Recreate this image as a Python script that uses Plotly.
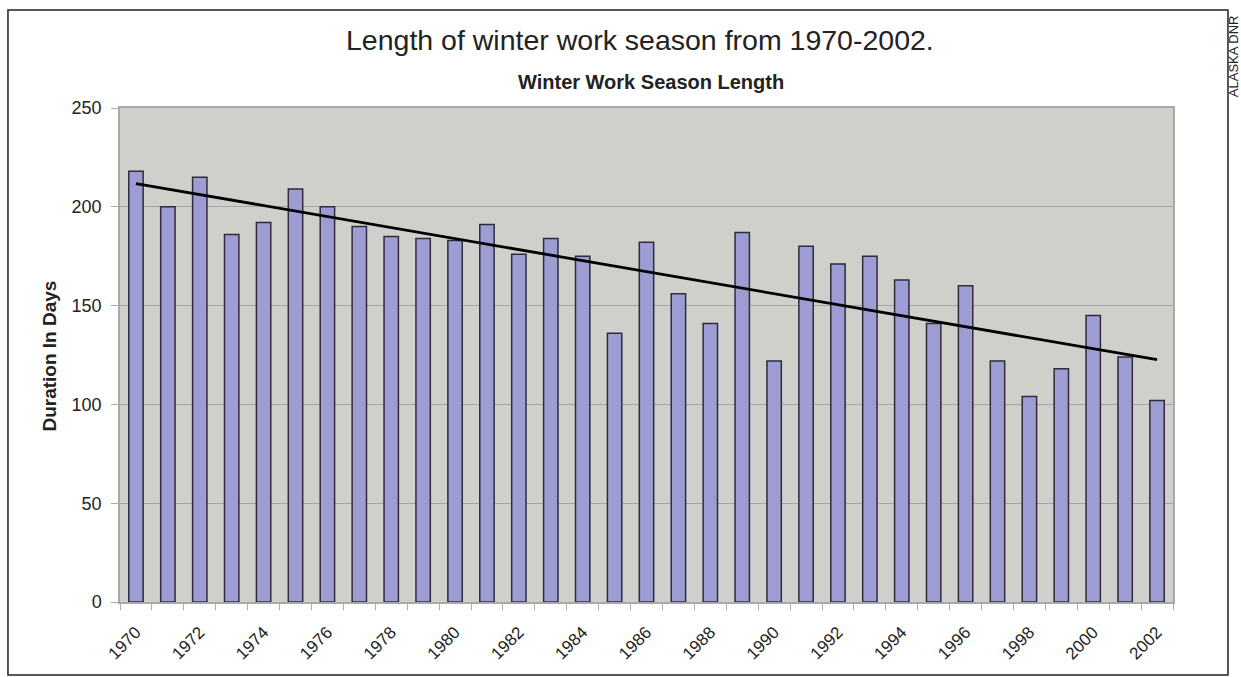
import numpy as np
import plotly.graph_objects as go

years = list(range(1970, 2003))
days = [218, 200, 215, 186, 192, 209, 200, 190, 185, 184, 183, 191, 176, 184, 175,
        136, 182, 156, 141, 187, 122, 180, 171, 175, 163, 141, 160, 122, 104, 118,
        145, 124, 102]
tick_years = list(range(1970, 2003, 2))
y_ticks = [0, 50, 100, 150, 200, 250]

title_text = "Length of winter work season from 1970-2002."
subtitle_text = "Winter Work Season Length"
y_label = "Duration In Days"
credit = "ALASKA DNR"

slope, intercept = np.polyfit(years, days, 1)
trend_x = [years[0], years[-1]]
trend_y = [slope * x + intercept for x in trend_x]

FONT = "Liberation Sans, Arial, sans-serif"
TXT = "#222222"

fig = go.Figure()
fig.add_trace(go.Bar(
    x=years, y=days, width=0.45,
    marker=dict(color="#9d9dd4", line=dict(color="#2c2c3c", width=1.5)),
    showlegend=False,
))
fig.add_trace(go.Scatter(
    x=trend_x, y=trend_y, mode="lines",
    line=dict(color="#000000", width=2.8), showlegend=False,
))

fig.update_layout(
    width=1241, height=677,
    margin=dict(l=120, r=68, t=108, b=75),
    paper_bgcolor="white",
    plot_bgcolor="#cfcfcb",
    font=dict(family=FONT, color=TXT),
    xaxis=dict(
        range=[1969.5, 2002.5],
        tickmode="array", tickvals=tick_years, ticktext=[str(y) for y in tick_years],
        tickangle=-45, tickfont=dict(size=17, family=FONT, color=TXT),
        ticks="", showgrid=False, zeroline=False, ticklabelstandoff=12,
        showline=True, linecolor="#a8a8a8", linewidth=1.5, mirror=True,
        minor=dict(tickmode="linear", tick0=1969.5, dtick=1, ticks="outside",
                   ticklen=6, tickcolor="#a8a8a8", showgrid=False),
    ),
    yaxis=dict(
        range=[0, 250], tickvals=y_ticks,
        tickfont=dict(size=18, family=FONT, color=TXT),
        ticks="outside", ticklen=7, tickcolor="#a8a8a8",
        showgrid=True, gridcolor="#a5a5a5", gridwidth=1.2,
        zeroline=False,
        showline=True, linecolor="#a8a8a8", linewidth=1.5, mirror=True,
        ticklabelstandoff=6,
    ),
    annotations=[
        dict(text=title_text, x=0.494, y=1.1377, xref="paper", yref="paper",
             showarrow=False, font=dict(size=28.5, family=FONT, color=TXT),
             xanchor="center", yanchor="middle"),
        dict(text="<b>" + subtitle_text + "</b>", x=0.504, y=1.0526, xref="paper", yref="paper",
             showarrow=False, font=dict(size=20, family=FONT, color=TXT),
             xanchor="center", yanchor="middle"),
        dict(text="<b>" + y_label + "</b>", x=-0.0669, y=0.498, xref="paper", yref="paper",
             showarrow=False, textangle=-90, font=dict(size=19, family=FONT, color=TXT),
             xanchor="center", yanchor="middle"),
        dict(text=credit, x=1.0570, y=1.105, xref="paper", yref="paper",
             showarrow=False, textangle=-90, font=dict(size=13, family=FONT, color=TXT),
             xanchor="center", yanchor="middle"),
    ],
    shapes=[
        dict(type="rect", xref="paper", yref="paper",
             x0=-0.1064, x1=1.0522, y0=-0.1478, y1=1.1984,
             line=dict(color="#222222", width=1.5), fillcolor="rgba(0,0,0,0)"),
    ],
)

fig.write_html("out.html")
